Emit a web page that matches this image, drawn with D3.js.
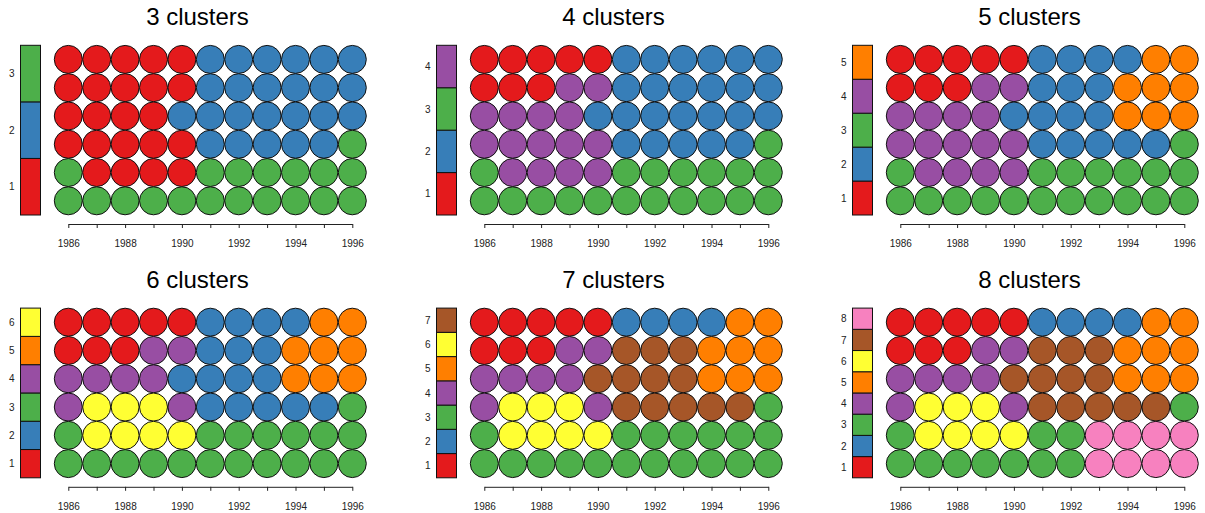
<!DOCTYPE html>
<html>
<head>
<meta charset="utf-8">
<script src="https://cdn.jsdelivr.net/npm/d3@7"></script>
<style>
  html, body { margin: 0; padding: 0; background: #fff; }
  svg { display: block; font-family: "Liberation Sans", Arial, sans-serif; }
</style>
</head>
<body>
<svg id="chart" width="1205" height="513"></svg>
<script>
// Years along the x axis (one column of circles per year)
const years = [1986, 1987, 1988, 1989, 1990, 1991, 1992, 1993, 1994, 1995, 1996];
// Row positions, listed top to bottom
const rowsTopDown = [6, 5, 4, 3, 2, 1];
// Axis labels shown every other year
const tickLabels = [1986, 1988, 1990, 1992, 1994, 1996];

// Number of clusters in each panel
const clusterCounts = [3, 4, 5, 6, 7, 8];

// Cluster membership per cell, rows listed top to bottom, columns by year
const clusters3 = [
  [1, 1, 1, 1, 1, 2, 2, 2, 2, 2, 2],
  [1, 1, 1, 1, 1, 2, 2, 2, 2, 2, 2],
  [1, 1, 1, 1, 2, 2, 2, 2, 2, 2, 2],
  [1, 1, 1, 1, 1, 2, 2, 2, 2, 2, 3],
  [3, 1, 1, 1, 1, 3, 3, 3, 3, 3, 3],
  [3, 3, 3, 3, 3, 3, 3, 3, 3, 3, 3]
];
const clusters4 = [
  [1, 1, 1, 1, 1, 2, 2, 2, 2, 2, 2],
  [1, 1, 1, 4, 4, 2, 2, 2, 2, 2, 2],
  [4, 4, 4, 4, 2, 2, 2, 2, 2, 2, 2],
  [4, 4, 4, 4, 4, 2, 2, 2, 2, 2, 3],
  [3, 4, 4, 4, 4, 3, 3, 3, 3, 3, 3],
  [3, 3, 3, 3, 3, 3, 3, 3, 3, 3, 3]
];
const clusters5 = [
  [1, 1, 1, 1, 1, 2, 2, 2, 2, 5, 5],
  [1, 1, 1, 4, 4, 2, 2, 2, 5, 5, 5],
  [4, 4, 4, 4, 2, 2, 2, 2, 5, 5, 5],
  [4, 4, 4, 4, 4, 2, 2, 2, 2, 2, 3],
  [3, 4, 4, 4, 4, 3, 3, 3, 3, 3, 3],
  [3, 3, 3, 3, 3, 3, 3, 3, 3, 3, 3]
];
const clusters6 = [
  [1, 1, 1, 1, 1, 2, 2, 2, 2, 5, 5],
  [1, 1, 1, 4, 4, 2, 2, 2, 5, 5, 5],
  [4, 4, 4, 4, 2, 2, 2, 2, 5, 5, 5],
  [4, 6, 6, 6, 4, 2, 2, 2, 2, 2, 3],
  [3, 6, 6, 6, 6, 3, 3, 3, 3, 3, 3],
  [3, 3, 3, 3, 3, 3, 3, 3, 3, 3, 3]
];
const clusters7 = [
  [1, 1, 1, 1, 1, 2, 2, 2, 2, 5, 5],
  [1, 1, 1, 4, 4, 7, 7, 7, 5, 5, 5],
  [4, 4, 4, 4, 7, 7, 7, 7, 5, 5, 5],
  [4, 6, 6, 6, 4, 7, 7, 7, 7, 7, 3],
  [3, 6, 6, 6, 6, 3, 3, 3, 3, 3, 3],
  [3, 3, 3, 3, 3, 3, 3, 3, 3, 3, 3]
];
const clusters8 = [
  [1, 1, 1, 1, 1, 2, 2, 2, 2, 5, 5],
  [1, 1, 1, 4, 4, 7, 7, 7, 5, 5, 5],
  [4, 4, 4, 4, 7, 7, 7, 7, 5, 5, 5],
  [4, 6, 6, 6, 4, 7, 7, 7, 7, 7, 3],
  [3, 6, 6, 6, 6, 3, 3, 8, 8, 8, 8],
  [3, 3, 3, 3, 3, 3, 3, 8, 8, 8, 8]
];
const panelGrids = [clusters3, clusters4, clusters5, clusters6, clusters7, clusters8];

// Set1 qualitative palette, cluster 1..8
const palette = ["#E41A1C", "#377EB8", "#4DAF4A", "#984EA3", "#FF7F00", "#FFFF33", "#A65628", "#F781BF"];

const svg = d3.select("#chart");

// Panel geometry (relative to each panel's origin)
const colStep = 416, rowStep = 262.8;
const legendX = 20.5, legendW = 20, legendTop = 45.3, legendBottom = 215;
const circleR = 14;
const x = d3.scaleLinear().domain([1986, 1996]).range([68.3, 352.3]);
const y = d3.scaleLinear().domain([1, 6]).range([200.8, 59.4]);
const axisY = 224;
const color = d3.scaleOrdinal().domain(d3.range(1, 9)).range(palette);

panelGrids.forEach((grid, i) => {
  const k = clusterCounts[i];
  const col = i % 3, row = Math.floor(i / 3);
  const g = svg.append("g")
    .attr("transform", `translate(${col * colStep},${row * rowStep})`);

  // Title
  g.append("text")
    .attr("x", 197.5)
    .attr("y", 25)
    .attr("text-anchor", "middle")
    .attr("font-size", 24)
    .attr("fill", "#000")
    .text(`${k} clusters`);

  // Legend: stacked colour key, cluster 1 at the bottom
  const ly = d3.scaleBand().domain(d3.range(1, k + 1).reverse()).range([legendTop, legendBottom]).padding(0);
  const lg = g.append("g");
  lg.selectAll("rect")
    .data(d3.range(1, k + 1))
    .join("rect")
    .attr("x", legendX)
    .attr("y", d => ly(d))
    .attr("width", legendW)
    .attr("height", ly.bandwidth())
    .attr("fill", d => color(d))
    .attr("stroke", "#111")
    .attr("stroke-width", 1);
  lg.selectAll("text")
    .data(d3.range(1, k + 1))
    .join("text")
    .attr("x", 11.7)
    .attr("y", d => ly(d) + ly.bandwidth() / 2)
    .attr("dy", "0.36em")
    .attr("text-anchor", "middle")
    .attr("font-size", 10)
    .attr("fill", "#222")
    .text(d => d);

  // Cells
  const cells = [];
  grid.forEach((rowVals, ri) => {
    rowVals.forEach((c, ci) => {
      cells.push({ year: years[ci], row: rowsTopDown[ri], cluster: c });
    });
  });
  g.append("g").selectAll("circle")
    .data(cells)
    .join("circle")
    .attr("cx", d => x(d.year))
    .attr("cy", d => y(d.row))
    .attr("r", circleR)
    .attr("fill", d => color(d.cluster))
    .attr("stroke", "#111")
    .attr("stroke-width", 1);

  // X axis: a tick every year, labels every other year
  const axis = d3.axisBottom(x)
    .tickValues(years)
    .tickFormat(d => tickLabels.includes(d) ? String(d) : "")
    .tickSize(4)
    .tickSizeOuter(0)
    .tickPadding(12);
  const ag = g.append("g")
    .attr("transform", `translate(0,${axisY})`)
    .call(axis);
  ag.select(".domain").attr("stroke", "#222");
  ag.selectAll(".tick line").attr("stroke", "#222");
  ag.selectAll(".tick text")
    .attr("font-family", "'Liberation Sans', Arial, sans-serif")
    .attr("font-size", 10)
    .attr("fill", "#222");
});
</script>
</body>
</html>
